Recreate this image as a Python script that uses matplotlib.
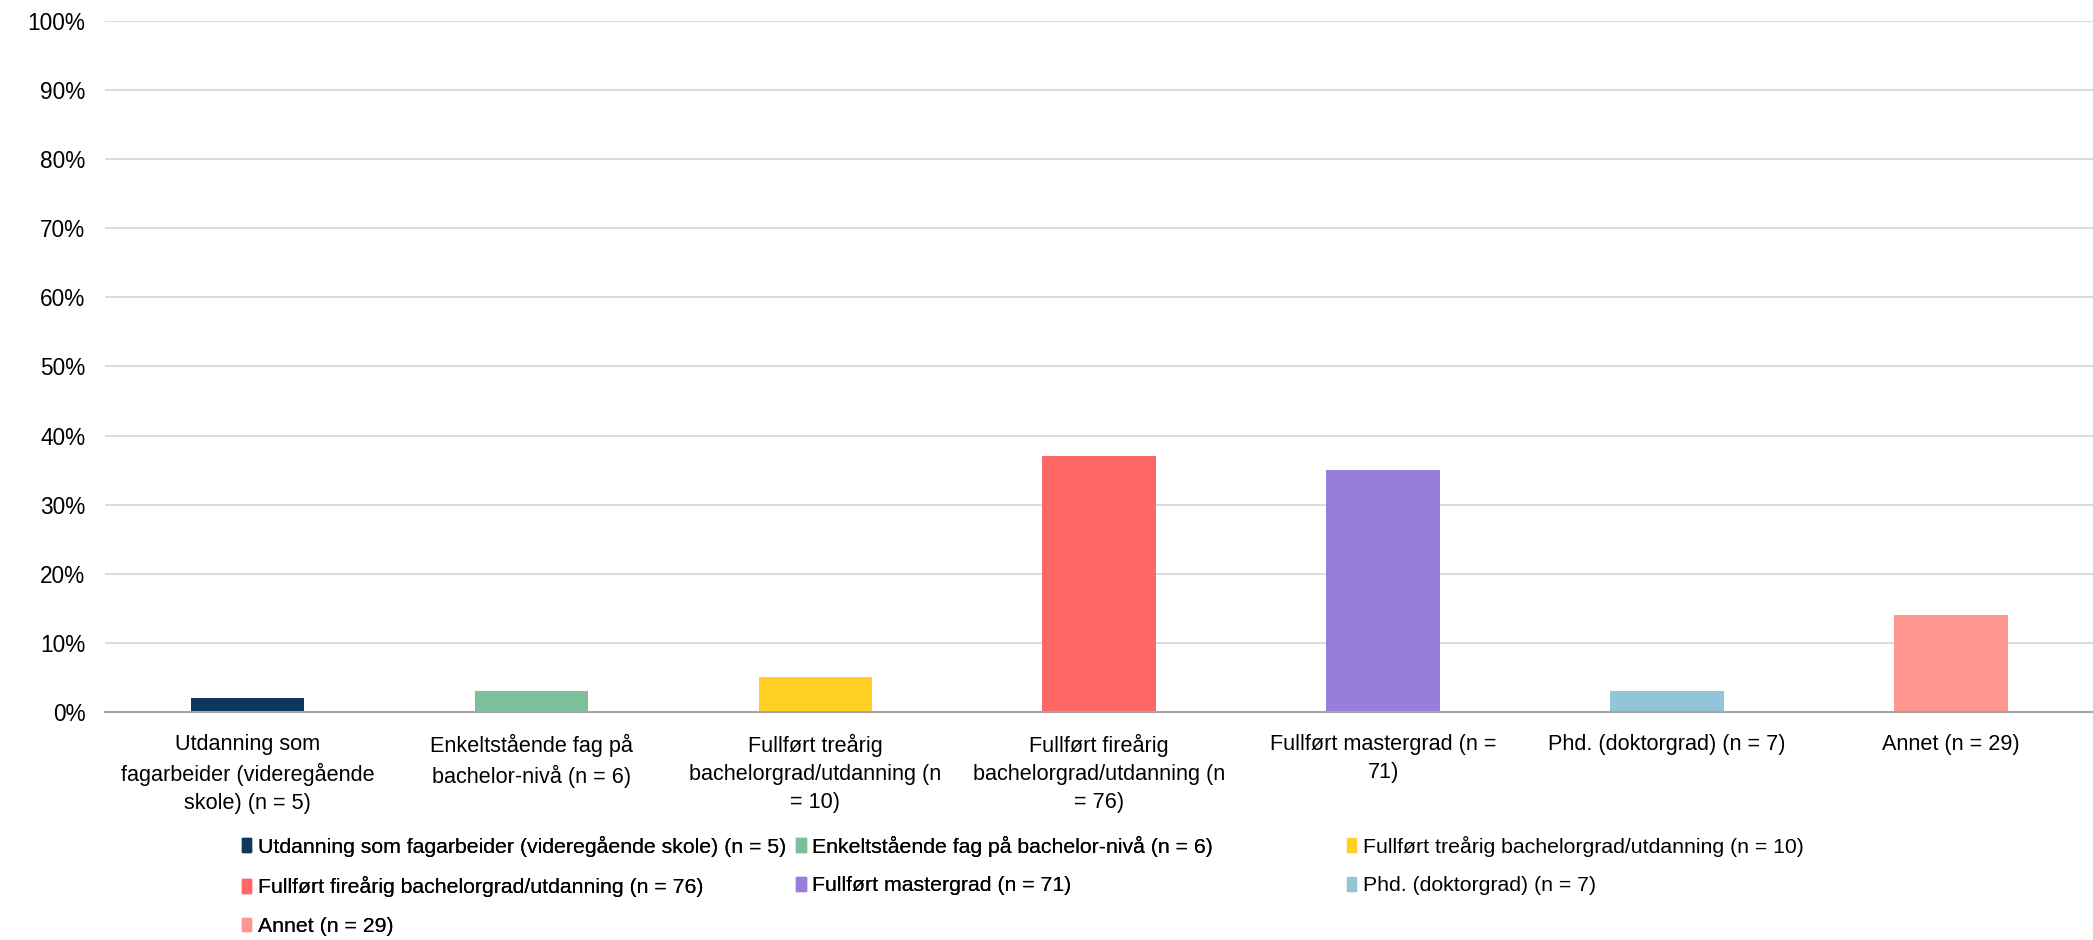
import matplotlib.pyplot as plt
from matplotlib.patches import Patch
from matplotlib.ticker import PercentFormatter

plt.rcParams['font.family'] = ['Liberation Sans', 'DejaVu Sans']

# data
labels = [
    'Utdanning som fagarbeider (videregående skole) (n = 5)',
    'Enkeltstående fag på bachelor-nivå (n = 6)',
    'Fullført treårig bachelorgrad/utdanning (n = 10)',
    'Fullført fireårig bachelorgrad/utdanning (n = 76)',
    'Fullført mastergrad (n = 71)',
    'Phd. (doktorgrad) (n = 7)',
    'Annet (n = 29)',
]
tick_labels = [
    'Utdanning som\nfagarbeider (videregående\nskole) (n = 5)',
    'Enkeltstående fag på\nbachelor-nivå (n = 6)',
    'Fullført treårig\nbachelorgrad/utdanning (n\n= 10)',
    'Fullført fireårig\nbachelorgrad/utdanning (n\n= 76)',
    'Fullført mastergrad (n =\n71)',
    'Phd. (doktorgrad) (n = 7)',
    'Annet (n = 29)',
]
values = [2, 3, 5, 37, 35, 3, 14]
colors = ['#0D385B', '#7DBF9B', '#FFD023', '#FF6666', '#987DDC', '#92C5D8', '#FF968F']

fig = plt.figure(figsize=(20.93, 9.4), dpi=100)
ax = fig.add_axes([0.0504, 0.2426, 0.9496, 0.7351])

x = range(len(values))
ax.bar(x, values, width=0.4, color=colors, zorder=3)

ax.set_xlim(-0.5, len(values) - 0.5)
ax.set_ylim(0, 100)
ax.set_yticks(range(0, 101, 10))
ax.yaxis.set_major_formatter(PercentFormatter(decimals=0))
ax.set_xticks(list(x))
ax.set_xticklabels(tick_labels, fontsize=15.6, linespacing=1.42)
ax.tick_params(axis='y', labelsize=16.3, length=0, pad=14.5)
ax.tick_params(axis='x', length=0, pad=16)

ax.grid(axis='y', color='#D9D9D9', linewidth=1.3, zorder=0)
for s in ['top', 'right', 'left']:
    ax.spines[s].set_visible(False)
ax.spines['bottom'].set_color('#A6A6A6')
ax.spines['bottom'].set_linewidth(1.5)
ax.spines['bottom'].set_zorder(4)

# legend, three columns laid out row by row
col_x = [0.1155, 0.3805, 0.6435]
for j in range(3):
    idx = [i for i in range(j, len(labels), 3)]
    handles = [Patch(color=colors[i]) for i in idx]
    leg = fig.legend(handles, [labels[i] for i in idx],
                     loc='upper left', bbox_to_anchor=(col_x[j], 0.111),
                     frameon=False, fontsize=15.3, handlelength=0.45,
                     handleheight=0.6, handletextpad=0.3, labelspacing=0.92,
                     borderaxespad=0, borderpad=0)
    if j < 2:
        fig.add_artist(leg)

fig.savefig('out.png', dpi=100)
